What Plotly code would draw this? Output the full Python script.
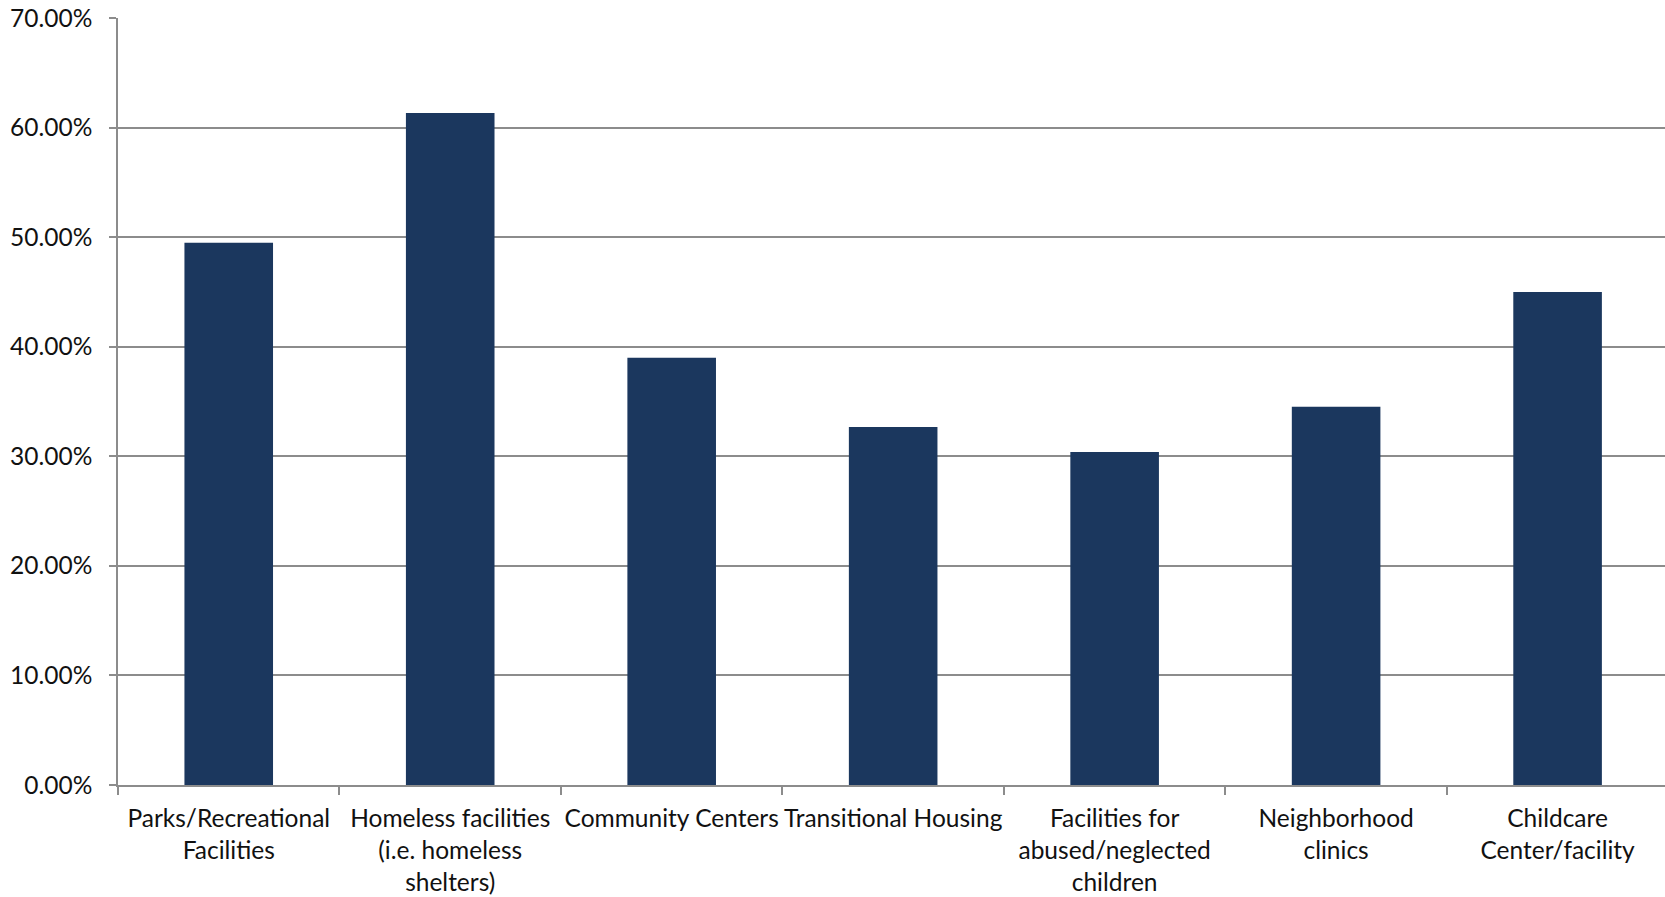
import plotly.graph_objects as go

categories = [
    "Parks/Recreational<br>Facilities",
    "Homeless facilities<br>(i.e. homeless<br>shelters)",
    "Community Centers",
    "Transitional Housing",
    "Facilities for<br>abused/neglected<br>children",
    "Neighborhood<br>clinics",
    "Childcare<br>Center/facility",
]
shares = [0.4948, 0.6132, 0.3900, 0.3268, 0.3040, 0.3452, 0.4500]

y_ticks = [0, 0.1, 0.2, 0.3, 0.4, 0.5, 0.6, 0.7]
y_labels = ["0.00%", "10.00%", "20.00%", "30.00%", "40.00%", "50.00%", "60.00%", "70.00%"]

bar_color = "#1b375e"
grid_color = "#8c8c8c"
font_family = "Lato, Carlito, Calibri, sans-serif"
font_size = 24.5

fig = go.Figure(
    go.Bar(
        x=categories,
        y=shares,
        marker=dict(color=bar_color, line=dict(width=0)),
        width=0.4,
    )
)

fig.update_layout(
    width=1665,
    height=897,
    margin=dict(l=118, r=0, t=18, b=112),
    paper_bgcolor="white",
    plot_bgcolor="white",
    showlegend=False,
    font=dict(family=font_family, size=font_size, color="#111111"),
    bargap=0.6,
)

fig.update_xaxes(
    type="category",
    range=[-0.5, 6.485],
    tickson="boundaries",
    ticks="outside",
    ticklen=8,
    tickwidth=1.5,
    tickcolor=grid_color,
    showline=True,
    linecolor=grid_color,
    linewidth=2,
    showgrid=False,
    tickangle=0,
    ticklabelstandoff=11,
    tickfont=dict(family=font_family, size=font_size, color="#111111"),
)

fig.update_yaxes(
    range=[0, 0.7],
    tickvals=y_ticks,
    ticktext=y_labels,
    ticks="outside",
    ticklen=7,
    tickwidth=1.5,
    tickcolor=grid_color,
    showline=True,
    linecolor=grid_color,
    linewidth=1.5,
    showgrid=True,
    gridcolor=grid_color,
    gridwidth=1.5,
    zeroline=False,
    ticklabelstandoff=12,
    tickfont=dict(family=font_family, size=font_size, color="#111111"),
)

fig.write_html("out.html")
